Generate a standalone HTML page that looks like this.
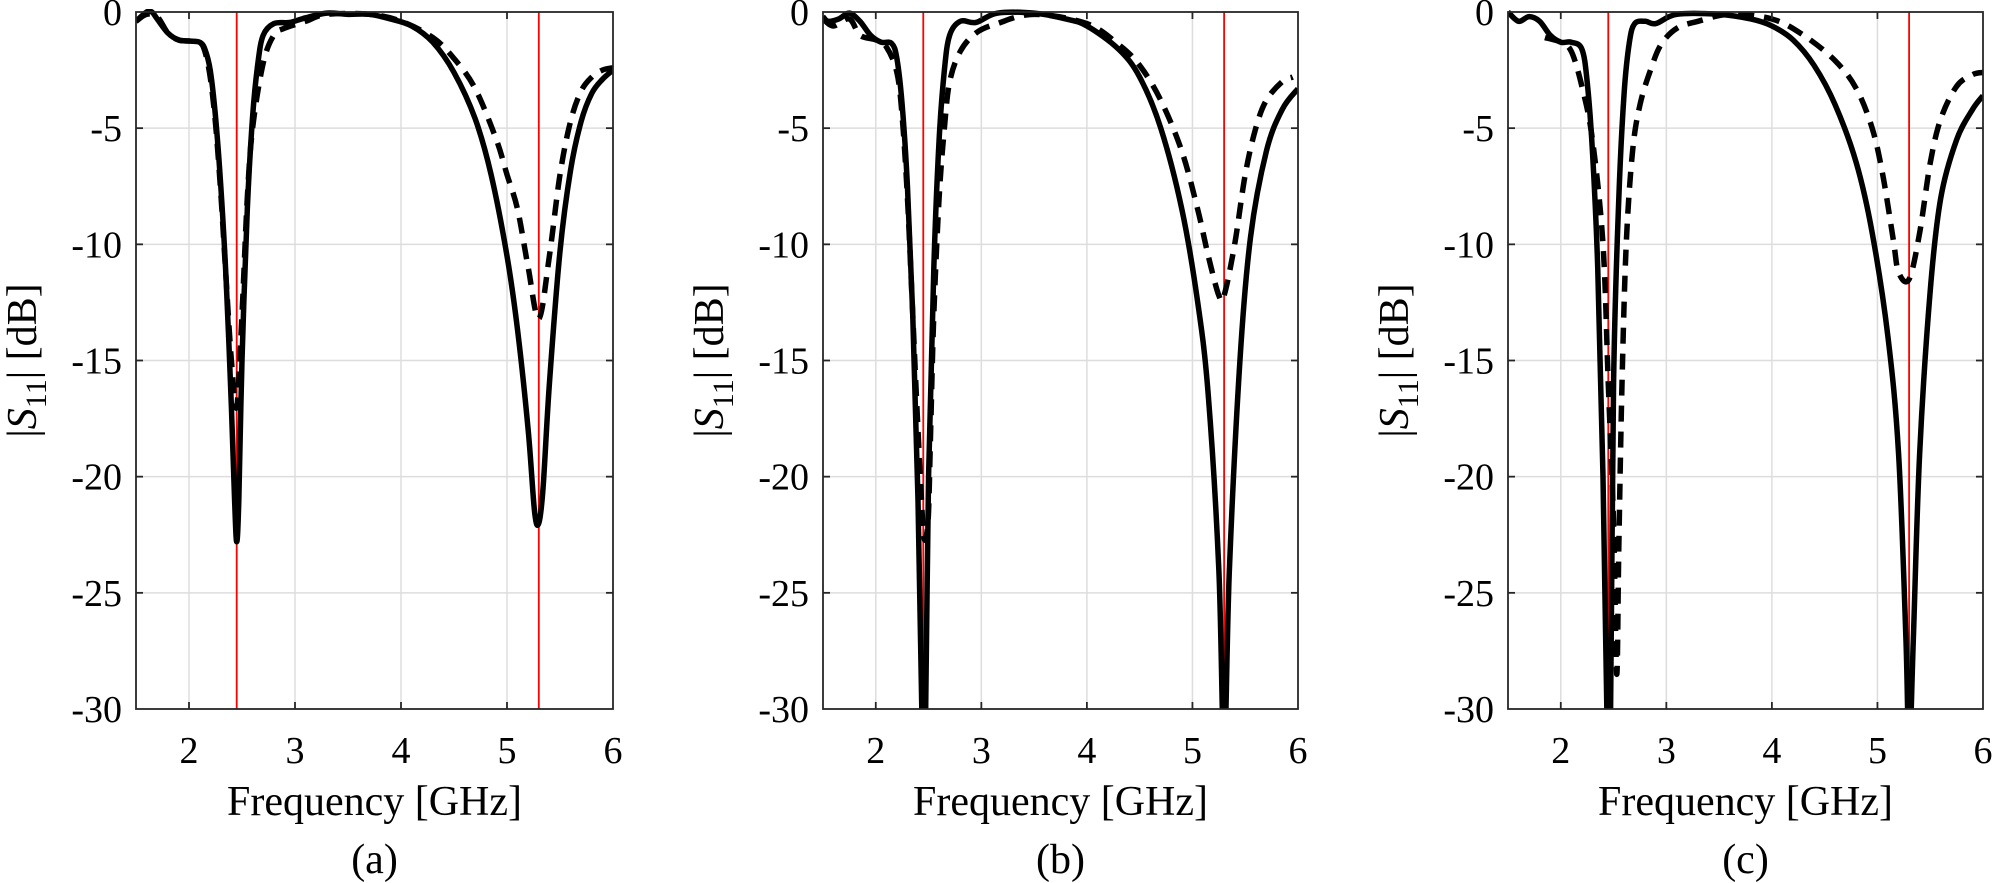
<!DOCTYPE html>
<html><head><meta charset="utf-8"><style>
html,body{margin:0;padding:0;background:#fff;}
svg{display:block;}
</style></head><body>
<svg id="s" width="1992" height="883" xmlns="http://www.w3.org/2000/svg" font-family="'Liberation Serif','Times New Roman',serif"></svg>
<script>
const S=document.getElementById('s');
const Y0=12,Y1=709;
const panels=[
{l:136,r:613,lab:'(a)',
solid:[[1.5,-0.4],[1.6,0],[1.65,0],[1.7,-0.3],[1.8,-0.9],[1.9,-1.2],[2.0,-1.25],[2.1,-1.3],[2.15,-1.6],[2.2,-2.5],[2.25,-4.5],[2.3,-7.5],[2.35,-11.5],[2.4,-17],[2.43,-21],[2.45,-22.8],[2.47,-21],[2.5,-15],[2.55,-8.5],[2.6,-4.5],[2.65,-2.2],[2.7,-1.0],[2.8,-0.5],[2.95,-0.45],[3.1,-0.25],[3.3,-0.05],[3.5,-0.1],[3.7,-0.1],[3.9,-0.3],[4.1,-0.6],[4.3,-1.3],[4.5,-2.6],[4.7,-4.6],[4.85,-7],[5.0,-10.5],[5.1,-13.7],[5.2,-18],[5.26,-21.5],[5.3,-22],[5.34,-20.5],[5.4,-16],[5.5,-10.3],[5.6,-6.8],[5.7,-4.7],[5.8,-3.5],[5.9,-2.9],[6.0,-2.5]],
dash:[[1.5,-0.4],[1.6,-0.1],[1.7,-0.2],[1.8,-0.9],[1.9,-1.2],[2.0,-1.25],[2.1,-1.3],[2.15,-1.7],[2.2,-2.8],[2.25,-4.8],[2.3,-7.8],[2.35,-11.5],[2.4,-15],[2.45,-17],[2.5,-13],[2.55,-8],[2.6,-5],[2.7,-2.2],[2.8,-1.0],[2.9,-0.7],[3.1,-0.4],[3.3,-0.1],[3.7,-0.1],[4.0,-0.4],[4.3,-1.1],[4.5,-2.0],[4.7,-3.3],[4.9,-5.5],[5.0,-7],[5.1,-8.5],[5.2,-11],[5.3,-13.2],[5.4,-10.5],[5.5,-7],[5.6,-4.7],[5.7,-3.4],[5.8,-2.8],[5.9,-2.5],[6,-2.4]]},
{l:823,r:1298,lab:'(b)',
solid:[[1.5,-0.2],[1.55,-0.4],[1.65,-0.3],[1.75,-0.05],[1.85,-0.4],[1.95,-1.0],[2.05,-1.3],[2.15,-1.35],[2.2,-2],[2.25,-4],[2.3,-7.5],[2.35,-13],[2.4,-21],[2.44,-31],[2.47,-31],[2.5,-20],[2.55,-11],[2.6,-5.5],[2.65,-2.5],[2.7,-1.0],[2.8,-0.4],[2.95,-0.45],[3.15,-0.05],[3.5,-0.05],[3.8,-0.3],[4.0,-0.6],[4.3,-1.6],[4.5,-2.8],[4.7,-5],[4.9,-8.5],[5.05,-12.5],[5.15,-16.5],[5.25,-24],[5.3,-32],[5.35,-24],[5.45,-15],[5.55,-9.7],[5.7,-6],[5.85,-4.2],[6,-3.3]],
dash:[[1.5,-0.3],[1.6,-0.6],[1.75,-0.3],[1.85,-1.0],[2.0,-1.2],[2.1,-1.5],[2.2,-2.6],[2.25,-4.5],[2.3,-8],[2.35,-13],[2.4,-18],[2.45,-22.3],[2.48,-22.5],[2.5,-21.5],[2.52,-18],[2.55,-13],[2.6,-8],[2.65,-5],[2.7,-3],[2.8,-1.7],[2.95,-0.9],[3.15,-0.5],[3.5,-0.1],[4.0,-0.5],[4.3,-1.4],[4.5,-2.3],[4.7,-3.8],[4.9,-6],[5.05,-8.5],[5.15,-10.5],[5.25,-12.2],[5.3,-12.2],[5.4,-10],[5.5,-7],[5.6,-5],[5.7,-3.8],[5.85,-3],[5.95,-2.8]]},
{l:1508,r:1983,lab:'(c)',
solid:[[1.5,0],[1.6,-0.4],[1.7,-0.2],[1.8,-0.4],[1.9,-1.0],[2.0,-1.3],[2.1,-1.3],[2.2,-1.6],[2.25,-3],[2.3,-6],[2.35,-11],[2.4,-20],[2.44,-31],[2.47,-31],[2.5,-16],[2.55,-8],[2.6,-3.5],[2.65,-1.3],[2.7,-0.5],[2.8,-0.4],[2.9,-0.5],[3.1,-0.1],[3.5,-0.1],[3.8,-0.3],[4.0,-0.6],[4.2,-1.2],[4.4,-2.3],[4.6,-4],[4.8,-6.5],[4.95,-9.5],[5.1,-14],[5.2,-19],[5.27,-27],[5.3,-32],[5.34,-27],[5.4,-19],[5.5,-12],[5.6,-8],[5.75,-5.5],[5.9,-4.2],[6,-3.6]],
dash:[[1.85,-1.1],[2.0,-1.3],[2.1,-1.7],[2.2,-3.2],[2.3,-5.5],[2.4,-10],[2.45,-16],[2.5,-22],[2.53,-28.5],[2.55,-23],[2.58,-16],[2.62,-10],[2.68,-6],[2.75,-4],[2.85,-2.5],[2.95,-1.4],[3.1,-0.7],[3.3,-0.4],[3.6,-0.1],[4.0,-0.3],[4.3,-1],[4.6,-2.1],[4.8,-3.3],[4.95,-5],[5.05,-7],[5.15,-9.8],[5.2,-11.2],[5.3,-11.5],[5.4,-9.5],[5.5,-6.5],[5.6,-4.6],[5.75,-3.2],[5.9,-2.7],[6,-2.6]]}
];
let h='';
panels.forEach((p,i)=>{
 const X=f=>p.l+(f-1.5)/4.5*(p.r-p.l), Y=d=>Y0+(-d)/30*(Y1-Y0);
 h+=`<clipPath id="c${i}"><rect x="${p.l}" y="${Y0-3}" width="${p.r-p.l}" height="${Y1-Y0+3}"/></clipPath>`;
 for(let f=2;f<=5;f++)h+=`<line x1="${X(f)}" x2="${X(f)}" y1="${Y0}" y2="${Y1}" stroke="#ddd" stroke-width="1.5"/>`;
 for(let d=-5;d>=-25;d-=5)h+=`<line x1="${p.l}" x2="${p.r}" y1="${Y(d)}" y2="${Y(d)}" stroke="#ddd" stroke-width="1.5"/>`;
 [2.45,5.3].forEach(f=>h+=`<line x1="${X(f)}" x2="${X(f)}" y1="${Y0}" y2="${Y1}" stroke="#f00" stroke-width="1.8"/>`);
 const path=pts=>{const P=pts.map(q=>[X(q[0]),Y(q[1])]);let s=`M${P[0][0]},${P[0][1]}`;
  for(let k=0;k<P.length-1;k++){const a=P[k-1]||P[k],b=P[k],c=P[k+1],d=P[k+2]||c;
   s+=` C${b[0]+(c[0]-a[0])/6},${b[1]+(c[1]-a[1])/6} ${c[0]-(d[0]-b[0])/6},${c[1]-(d[1]-b[1])/6} ${c[0]},${c[1]}`;}return s;};
 h+=`<g clip-path="url(#c${i})"><path d="${path(p.dash)}" fill="none" stroke="#000" stroke-width="5.5" stroke-dasharray="16,10"/>`;
 h+=`<path d="${path(p.solid)}" fill="none" stroke="#000" stroke-width="5.5"/></g>`;
 h+=`<rect x="${p.l}" y="${Y0}" width="${p.r-p.l}" height="${Y1-Y0}" fill="none" stroke="#262626" stroke-width="1.8"/>`;
 for(let f=2;f<=5;f++){h+=`<line x1="${X(f)}" x2="${X(f)}" y1="${Y1}" y2="${Y1-7}" stroke="#262626" stroke-width="1.8"/><line x1="${X(f)}" x2="${X(f)}" y1="${Y0}" y2="${Y0+7}" stroke="#262626" stroke-width="1.8"/>`;}
 for(let d=-5;d>=-25;d-=5){h+=`<line x1="${p.l}" x2="${p.l+7}" y1="${Y(d)}" y2="${Y(d)}" stroke="#262626" stroke-width="1.8"/><line x1="${p.r}" x2="${p.r-7}" y1="${Y(d)}" y2="${Y(d)}" stroke="#262626" stroke-width="1.8"/>`;}
 for(let f=2;f<=6;f++)h+=`<text x="${X(f)}" y="763" font-size="38" text-anchor="middle">${f}</text>`;
 for(let d=0;d>=-30;d-=5)h+=`<text x="${p.l-14}" y="${Y(d)+13}" font-size="38" text-anchor="end">${d}</text>`;
 const cx=(p.l+p.r)/2;
 h+=`<text x="${cx}" y="815" font-size="42" text-anchor="middle">Frequency [GHz]</text>`;
 h+=`<text x="${cx}" y="873" font-size="42" text-anchor="middle">${p.lab}</text>`;
 h+=`<text transform="translate(${p.l-100},${(Y0+Y1)/2}) rotate(-90)" font-size="42" text-anchor="middle">|<tspan font-style="italic">S</tspan><tspan font-size="30" dy="10">11</tspan><tspan dy="-10">| [dB]</tspan></text>`;
});
S.innerHTML=h;
</script>
</body></html>
